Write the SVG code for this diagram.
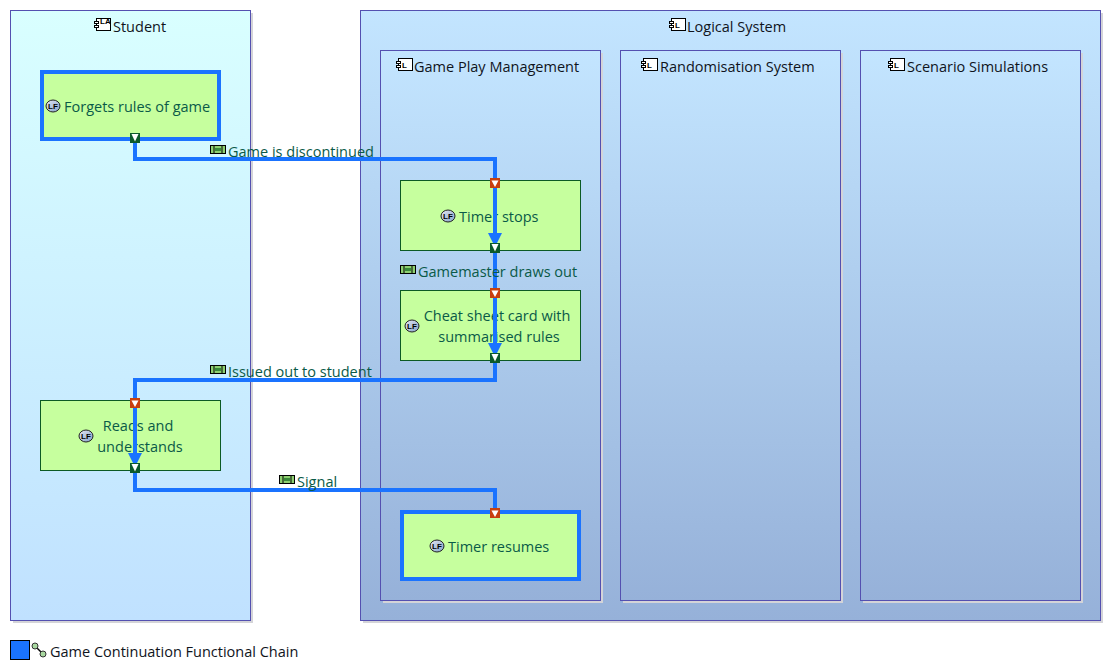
<svg xmlns="http://www.w3.org/2000/svg" width="1113" height="672" viewBox="0 0 1113 672">
<style>
text{font-family:"Open Sans","Noto Sans","Liberation Sans",sans-serif;font-size:14.5px}
.t{fill:#10141c;text-anchor:start}
.g{fill:#0a5a48}
.c{stroke:#5450b0;stroke-width:1}
.s{fill:#d4d4d8}
.fn{fill:#c6ff9e;stroke:#0c5a24;stroke-width:1}
.fb{fill:#c6ff9e;stroke:#1a73ff;stroke-width:4}
.l{fill:none;stroke:#1a73ff;stroke-width:4}
.ic{fill:#fff;stroke:#000;stroke-width:1}
.it{font-size:8px;font-family:"Liberation Sans",sans-serif;fill:#000;font-weight:bold}
</style>
<defs>
<linearGradient id="gs" x1="0" y1="0" x2="0" y2="1"><stop offset="0" stop-color="#d9ffff"/><stop offset="1" stop-color="#c0e1ff"/></linearGradient>
<linearGradient id="gl" x1="0" y1="0" x2="0" y2="1"><stop offset="0" stop-color="#c3e5ff"/><stop offset="1" stop-color="#96b1d9"/></linearGradient>
<linearGradient id="gi" x1="0" y1="0" x2="1" y2="1"><stop offset="0" stop-color="#e8e8f4"/><stop offset="1" stop-color="#7f9fc8"/></linearGradient>
<marker id="a" markerUnits="userSpaceOnUse" markerWidth="14" markerHeight="14" refX="14" refY="7" orient="auto"><path d="M0 0L14 7L0 14Z" fill="#1a73ff"/></marker>
<g id="po"><rect width="10" height="10" fill="#c8400e"/><path d="M1.5 2.5H8.5L5 9Z" fill="#fff"/></g>
<g id="pg"><rect width="10" height="10" fill="#0b5a2a"/><path d="M1.5 1H8.5L5 8.5Z" fill="#fff"/></g>
<g id="lf"><ellipse cx="7" cy="7" rx="7" ry="6" fill="url(#gi)" stroke="#222"/><text x="7" y="10" text-anchor="middle" class="it" style="font-size:8px">LF</text></g>
<g id="ex"><rect x="0.5" y="1.5" width="15" height="8" fill="#8ed070" stroke="#000"/><path d="M4 2V9M12 2V9" stroke="#000"/><path d="M5 4H11V7H5Z" fill="#3a8a3a"/></g>
<g id="cp"><rect x="2.5" y="0.5" width="14" height="12" fill="#fff" stroke="#000"/><rect x="0.5" y="3.5" width="4" height="2" fill="#fff" stroke="#000"/><rect x="0.5" y="7.5" width="4" height="2" fill="#fff" stroke="#000"/></g>
</defs>

<g id="student">
<rect class="s" x="13" y="13" width="240" height="610"/>
<rect class="c" x="10.5" y="10.5" width="240" height="610" fill="url(#gs)"/>
<use href="#cp" x="94" y="18"/><text x="100" y="24" class="it" style="font-size:8px">LA</text>
<text class="t" x="113" y="32">Student</text>
</g>
<g id="logical-system">
<rect class="s" x="363" y="13" width="740" height="610"/>
<rect class="c" x="360.5" y="10.5" width="740" height="610" fill="url(#gl)"/>
<use href="#cp" x="669" y="18"/><text x="675" y="28" class="it">L</text>
<text class="t" x="687" y="32">Logical System</text>
</g>
<g id="game-play-management">
<rect class="s" x="383" y="53" width="220" height="550"/>
<rect class="c" x="380.5" y="50.5" width="220" height="550" fill="url(#gl)"/>
<use href="#cp" x="396" y="58"/><text x="402" y="68" class="it">L</text>
<text class="t" x="414" y="72">Game Play Management</text>
</g>
<g id="randomisation-system">
<rect class="s" x="623" y="53" width="220" height="550"/>
<rect class="c" x="620.5" y="50.5" width="220" height="550" fill="url(#gl)"/>
<use href="#cp" x="641" y="58"/><text x="647" y="68" class="it">L</text>
<text class="t" x="660" y="72">Randomisation System</text>
</g>
<g id="scenario-simulations">
<rect class="s" x="863" y="53" width="220" height="550"/>
<rect class="c" x="860.5" y="50.5" width="220" height="550" fill="url(#gl)"/>
<use href="#cp" x="888" y="58"/><text x="894" y="68" class="it">L</text>
<text class="t" x="907" y="72">Scenario Simulations</text>
</g>

<g id="forgets-rules">
<rect class="fb" x="42" y="72" width="177" height="67"/>
<use href="#lf" x="46" y="99"/>
<text class="g" x="64" y="112">Forgets rules of game</text>
</g>
<g id="timer-stops">
<rect class="fn" x="400.5" y="180.5" width="180" height="70"/>
<use href="#lf" x="441" y="209"/>
<text class="g" x="459" y="222">Timer stops</text>
</g>
<g id="cheat-sheet">
<rect class="fn" x="400.5" y="290.5" width="180" height="70"/>
<use href="#lf" x="405" y="319"/>
<text class="g" x="497" y="321" text-anchor="middle">Cheat sheet card with</text>
<text class="g" x="499" y="342" text-anchor="middle">summarised rules</text>
</g>
<g id="reads-understands">
<rect class="fn" x="40.5" y="400.5" width="180" height="70"/>
<use href="#lf" x="79" y="429"/>
<text class="g" x="138" y="431" text-anchor="middle">Reads and</text>
<text class="g" x="140" y="452" text-anchor="middle">understands</text>
</g>
<g id="timer-resumes">
<rect class="fb" x="402" y="512" width="177" height="67"/>
<use href="#lf" x="430" y="539"/>
<text class="g" x="448" y="552">Timer resumes</text>
</g>

<g id="connectors">
<path class="l" d="M135 143V159H495V180"/>
<path class="l" d="M495 186V247" marker-end="url(#a)"/>
<path class="l" d="M495 250V290"/>
<path class="l" d="M495 296V357" marker-end="url(#a)"/>
<path class="l" d="M495 360V380H135V400"/>
<path class="l" d="M135 406V467" marker-end="url(#a)"/>
<path class="l" d="M135 470V490H495V510"/>
<use href="#pg" x="130" y="133"/>
<use href="#po" x="490" y="178"/>
<use href="#pg" x="490" y="243"/>
<use href="#po" x="490" y="288"/>
<use href="#pg" x="490" y="353"/>
<use href="#po" x="130" y="398"/>
<use href="#pg" x="130" y="463"/>
<use href="#po" x="490" y="508"/>
<use href="#ex" x="210" y="144"/><text class="g" x="228" y="157">Game is discontinued</text>
<use href="#ex" x="400" y="264"/><text class="g" x="418" y="277">Gamemaster draws out</text>
<use href="#ex" x="210" y="364"/><text class="g" x="228" y="377">Issued out to student</text>
<use href="#ex" x="279" y="474"/><text class="g" x="297" y="487">Signal</text>
</g>

<g id="legend">
<rect x="10.5" y="640.5" width="19" height="19" fill="#1a73ff" stroke="#000"/>
<path d="M35 646L43 654" stroke="#000" stroke-width="1.5"/>
<circle cx="35" cy="646" r="3" fill="#a8d8a0" stroke="#333"/><circle cx="43" cy="654" r="3" fill="#a8d8a0" stroke="#333"/>
<text class="t" x="50" y="657">Game Continuation Functional Chain</text>
</g>
</svg>
